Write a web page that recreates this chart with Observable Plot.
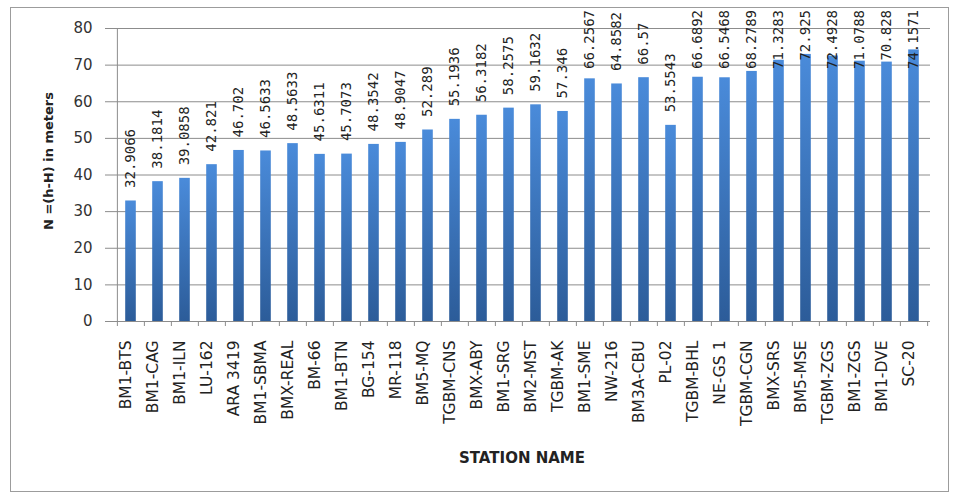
<!DOCTYPE html>
<html>
<head>
<meta charset="utf-8">
<script src="https://cdn.jsdelivr.net/npm/d3@7"></script>
<script src="https://cdn.jsdelivr.net/npm/@observablehq/plot@0.6"></script>
<style>
  body { margin: 0; background: #fff; }
  #chart { position: relative; width: 954px; height: 494px; }
  #border { position: absolute; left: 10px; top: 7px; width: 939px; height: 485px;
            border: 1px solid #9c9c9c; box-sizing: border-box; pointer-events: none; }
  #chart svg { position: absolute; left: 0; top: 0; }
</style>
</head>
<body>
<div id="chart"><div id="border"></div></div>
<script>
// Geoid undulation N = h - H (metres) at each benchmark station
const stations = [
  "BM1-BTS", "BM1-CAG", "BM1-ILN", "LU-162", "ARA 3419", "BM1-SBMA", "BMX-REAL",
  "BM-66", "BM1-BTN", "BG-154", "MR-118", "BM5-MQ", "TGBM-CNS", "BMX-ABY",
  "BM1-SRG", "BM2-MST", "TGBM-AK", "BM1-SME", "NW-216", "BM3A-CBU", "PL-02",
  "TGBM-BHL", "NE-GS 1", "TGBM-CGN", "BMX-SRS", "BM5-MSE", "TGBM-ZGS",
  "BM1-ZGS", "BM1-DVE", "SC-20"
];
const undulation = [
  32.9066, 38.1814, 39.0858, 42.821, 46.702, 46.5633, 48.5633,
  45.6311, 45.7073, 48.3542, 48.9047, 52.289, 55.1936, 56.3182,
  58.2575, 59.1632, 57.346, 66.2567, 64.8582, 66.57, 53.5543,
  66.6892, 66.5468, 68.2789, 71.3283, 72.925, 72.4928,
  71.0788, 70.828, 74.1571
];
const yTicks = [0, 10, 20, 30, 40, 50, 60, 70, 80];
const yTitle = "N =(h-H) in meters";
const xTitle = "STATION NAME";

const data = stations.map((name, i) => ({ name, value: undulation[i] }));

const W = 954, H = 494;
const mL = 113, mR = 24, mT = 28, mB = 173;
const bw = (W - mL - mR) / stations.length;
const frameH = H - mT - mB;
const lineColor = "#8c8c8c";

const plot = Plot.plot({
  width: W,
  height: H,
  marginLeft: mL,
  marginRight: mR,
  marginTop: mT,
  marginBottom: mB,
  style: { fontFamily: "DejaVu Sans", background: "transparent", color: "#222" },
  x: { domain: stations, padding: 0, axis: null },
  y: { domain: [0, 80], axis: null },
  marks: [
    // horizontal gridlines (the one at 0 doubles as the category axis line)
    Plot.ruleY(yTicks, { stroke: lineColor, strokeWidth: 1 }),
    // value axis line
    Plot.ruleX([stations[0]], { dx: -bw / 2, stroke: lineColor }),
    // category tick marks between bands
    Plot.ruleX(stations, { dx: -bw / 2, stroke: lineColor, insetTop: frameH, insetBottom: -5 }),
    Plot.ruleX([stations[stations.length - 1]], { dx: bw / 2, stroke: lineColor, insetTop: frameH, insetBottom: -5 }),
    Plot.axisY(yTicks, {
      label: null, tickSize: 8, tickPadding: 13, fontSize: 15, stroke: lineColor, fill: "#333"
    }),
    Plot.barY(data, {
      x: "name", y: "value", fill: "url(#barShade)", insetLeft: 8.2, insetRight: 8.2
    }),
    // value labels above each bar
    Plot.text(data, {
      x: "name", y: "value", text: d => String(d.value), rotate: -90,
      textAnchor: "start", dy: -13, fontSize: 14, fontFamily: "DejaVu Sans Mono", fill: "#222"
    }),
    // station names under the axis
    Plot.text(stations, {
      x: d => d, frameAnchor: "bottom", rotate: -90, textAnchor: "end",
      dy: 19, fontSize: 15.5, fill: "#222"
    }),
    Plot.text([yTitle], {
      frameAnchor: "left", rotate: -90, textAnchor: "middle", dx: -65, dy: -14,
      fontSize: 13, fontWeight: "bold", fill: "#222"
    }),
    Plot.text([xTitle], {
      frameAnchor: "bottom", dy: 141, fontSize: 15, fontWeight: "bold", fill: "#222"
    })
  ]
});

// vertical shading of the bars
const svg = d3.select(plot);
const grad = svg.insert("defs", ":first-child")
  .append("linearGradient")
  .attr("id", "barShade")
  .attr("x1", 0).attr("y1", 0).attr("x2", 0).attr("y2", 1);
grad.append("stop").attr("offset", "0%").attr("stop-color", "#4a8bda");
grad.append("stop").attr("offset", "100%").attr("stop-color", "#2c5c99");

document.getElementById("chart").appendChild(plot);

// keep value labels inside the chart: push down any label whose top runs past the border
const labelSet = new Set(undulation.map(String));
const svgTop = plot.getBoundingClientRect().top;
svg.selectAll("text").each(function () {
  if (!labelSet.has(this.textContent)) return;
  const top = this.getBoundingClientRect().top - svgTop;
  const minTop = 10;
  if (top < minTop) {
    const t = this.getAttribute("transform") || "";
    this.setAttribute("transform", `translate(0,${minTop - top}) ${t}`);
  }
});
</script>
</body>
</html>
